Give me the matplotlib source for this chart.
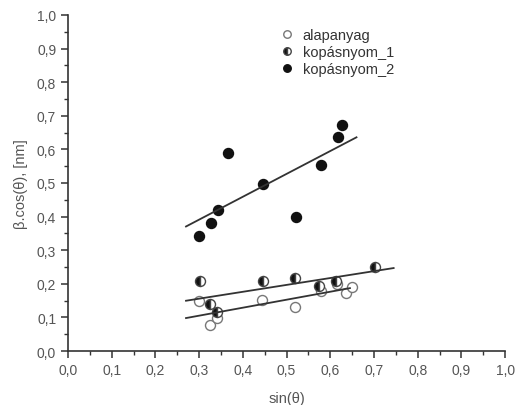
import numpy as np
import matplotlib.pyplot as plt
from matplotlib.ticker import MultipleLocator, FuncFormatter

plt.rcParams['font.family'] = ['Liberation Sans', 'DejaVu Sans']

# sin(theta) and beta*cos(theta) for each sample
x_alap = [0.300, 0.325, 0.342, 0.444, 0.519, 0.578, 0.615, 0.636, 0.649]
y_alap = [0.150, 0.078, 0.098, 0.152, 0.132, 0.178, 0.200, 0.173, 0.191]

x_kop1 = [0.302, 0.325, 0.342, 0.447, 0.519, 0.575, 0.613, 0.703]
y_kop1 = [0.208, 0.140, 0.115, 0.208, 0.216, 0.193, 0.207, 0.251]

x_kop2 = [0.300, 0.327, 0.343, 0.367, 0.447, 0.522, 0.579, 0.618, 0.627]
y_kop2 = [0.342, 0.381, 0.420, 0.589, 0.496, 0.400, 0.554, 0.637, 0.673]

labels = ['alapanyag', 'kopásnyom_1', 'kopásnyom_2']

fig = plt.figure(figsize=(5.17, 4.06), dpi=100)
ax = fig.add_axes([0.1315, 0.133, 0.8455, 0.8276])

dark = '#333333'
ax.plot(x_alap, y_alap, 'o', ls='none', ms=7.2, mfc='white', mec='#777777',
        mew=1.0, label=labels[0])
ax.plot(x_kop1, y_kop1, 'o', ls='none', ms=7.2, fillstyle='left', mfc='#111111',
        mfcalt='white', mec='#444444', mew=1.0, label=labels[1])
ax.plot(x_kop2, y_kop2, 'o', ls='none', ms=7.2, mfc='#111111', mec='#111111',
        label=labels[2])

# linear fits
for xs, ys, xr in [(x_alap, y_alap, (0.27, 0.645)),
                   (x_kop1, y_kop1, (0.27, 0.745)),
                   (x_kop2, y_kop2, (0.27, 0.66))]:
    k, b = np.polyfit(xs, ys, 1)
    xx = np.array(xr)
    ax.plot(xx, k * xx + b, color=dark, lw=1.3)

ax.set_xlim(0, 1)
ax.set_ylim(0, 1)
ax.xaxis.set_major_locator(MultipleLocator(0.1))
ax.xaxis.set_minor_locator(MultipleLocator(0.05))
ax.yaxis.set_major_locator(MultipleLocator(0.1))
ax.yaxis.set_minor_locator(MultipleLocator(0.05))
fmt = FuncFormatter(lambda v, p: f'{v:.1f}'.replace('.', ','))
ax.xaxis.set_major_formatter(fmt)
ax.yaxis.set_major_formatter(fmt)

for s in ['top', 'right']:
    ax.spines[s].set_visible(False)
for s in ['left', 'bottom']:
    ax.spines[s].set_color(dark)
    ax.spines[s].set_linewidth(1.2)
ax.tick_params(which='major', length=5, width=1.1, color=dark,
               labelsize=10, labelcolor='#555555')
ax.tick_params(which='minor', length=3, width=1.0, color=dark)

ax.set_xlabel('sin(θ)', fontsize=10.5, color='#555555', labelpad=10)
ax.set_ylabel('β.cos(θ), [nm]', fontsize=10.5, color='#555555', labelpad=6)

ax.legend(loc='upper left', bbox_to_anchor=(0.45, 1.0), frameon=False,
          fontsize=10.5, labelcolor='#333333', handletextpad=0.5,
          labelspacing=0.2, handlelength=1.2, markerscale=0.75)

fig.savefig('out.png', dpi=100)
